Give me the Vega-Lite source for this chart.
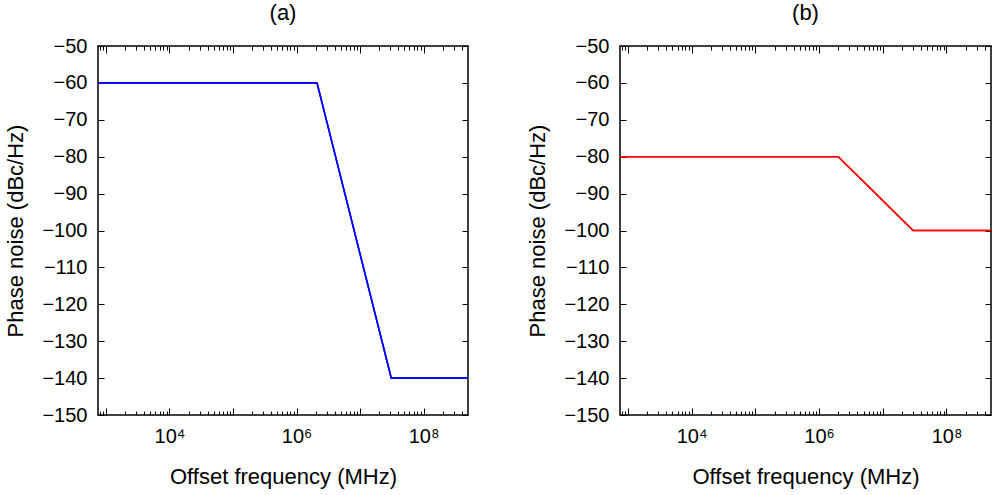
{
  "$schema": "https://vega.github.io/schema/vega-lite/v6.json",
  "padding": {"left": 4, "top": 1, "right": 3, "bottom": 3},
  "spacing": 54,
  "datasets": {
    "a": [
      {"freq": 750, "pn": -60},
      {"freq": 2100000, "pn": -60},
      {"freq": 31000000, "pn": -140},
      {"freq": 500000000, "pn": -140}
    ],
    "b": [
      {"freq": 750, "pn": -80},
      {"freq": 2000000, "pn": -80},
      {"freq": 30000000, "pn": -100},
      {"freq": 500000000, "pn": -100}
    ]
  },
  "config": {
    "view": {"stroke": "black", "strokeWidth": 1.5},
    "font": "Liberation Sans",
    "title": {"fontSize": 22, "fontWeight": "normal", "font": "Liberation Sans", "color": "black", "offset": 11},
    "axis": {
      "grid": false, "domain": false, "tickColor": "black", "tickWidth": 1,
      "labelFont": "Liberation Sans", "titleFont": "Liberation Sans",
      "labelFontSize": 20, "titleFontSize": 22, "titleFontWeight": "normal",
      "labelColor": "black", "titleColor": "black"
    }
  },
  "hconcat": [
    {
      "width": 370, "height": 369,
      "title": "(a)",
      "data": {"name": "a"},
      "layer": [
        {
          "mark": {"type": "line", "color": "#0000ff", "strokeWidth": 1.6},
          "encoding": {
            "x": {"field": "freq", "type": "quantitative",
              "scale": {"type": "log", "domain": [750, 500000000], "nice": false},
              "axis": {"orient": "bottom", "title": "Offset frequency (MHz)",
                "values": [800,900,1000,2000,3000,4000,5000,6000,7000,8000,9000,10000,20000,30000,40000,50000,60000,70000,80000,90000,100000,200000,300000,400000,500000,600000,700000,800000,900000,1000000,2000000,3000000,4000000,5000000,6000000,7000000,8000000,9000000,10000000,20000000,30000000,40000000,50000000,60000000,70000000,80000000,90000000,100000000,200000000,300000000,400000000],
                "tickSize": {"condition": {"test": "abs(log(datum.value)/LN10 - round(log(datum.value)/LN10)) < 0.001", "value": -7}, "value": -4},
                "labelExpr": "datum.value == 10000 ? '10⁴' : datum.value == 1000000 ? '10⁶' : datum.value == 100000000 ? '10⁸' : ''",
                "labelOverlap": false, "labelFlush": false, "labelPadding": 18, "titlePadding": 17}},
            "y": {"field": "pn", "type": "quantitative",
              "scale": {"domain": [-150, -50], "nice": false},
              "axis": {"orient": "left", "title": "Phase noise (dBc/Hz)",
                "values": [-150,-140,-130,-120,-110,-100,-90,-80,-70,-60,-50],
                "tickSize": -6, "labelPadding": 17, "titlePadding": 14}}
          }
        },
        {
          "mark": {"type": "line", "color": "#0000ff", "strokeWidth": 1.6},
          "encoding": {
            "x": {"field": "freq", "type": "quantitative",
              "scale": {"type": "log", "domain": [750, 500000000], "nice": false},
              "axis": {"orient": "top", "title": null, "labels": false,
                "values": [800,900,1000,2000,3000,4000,5000,6000,7000,8000,9000,10000,20000,30000,40000,50000,60000,70000,80000,90000,100000,200000,300000,400000,500000,600000,700000,800000,900000,1000000,2000000,3000000,4000000,5000000,6000000,7000000,8000000,9000000,10000000,20000000,30000000,40000000,50000000,60000000,70000000,80000000,90000000,100000000,200000000,300000000,400000000],
                "tickSize": {"condition": {"test": "abs(log(datum.value)/LN10 - round(log(datum.value)/LN10)) < 0.001", "value": -7}, "value": -4}}},
            "y": {"field": "pn", "type": "quantitative",
              "scale": {"domain": [-150, -50], "nice": false},
              "axis": {"orient": "right", "title": null, "labels": false,
                "values": [-150,-140,-130,-120,-110,-100,-90,-80,-70,-60,-50],
                "tickSize": -6}}
          }
        }
      ],
      "resolve": {"axis": {"x": "independent", "y": "independent"}}
    },
    {
      "width": 371, "height": 369,
      "title": "(b)",
      "data": {"name": "b"},
      "layer": [
        {
          "mark": {"type": "line", "color": "#ff0000", "strokeWidth": 1.6},
          "encoding": {
            "x": {"field": "freq", "type": "quantitative",
              "scale": {"type": "log", "domain": [750, 500000000], "nice": false},
              "axis": {"orient": "bottom", "title": "Offset frequency (MHz)",
                "values": [800,900,1000,2000,3000,4000,5000,6000,7000,8000,9000,10000,20000,30000,40000,50000,60000,70000,80000,90000,100000,200000,300000,400000,500000,600000,700000,800000,900000,1000000,2000000,3000000,4000000,5000000,6000000,7000000,8000000,9000000,10000000,20000000,30000000,40000000,50000000,60000000,70000000,80000000,90000000,100000000,200000000,300000000,400000000],
                "tickSize": {"condition": {"test": "abs(log(datum.value)/LN10 - round(log(datum.value)/LN10)) < 0.001", "value": -7}, "value": -4},
                "labelExpr": "datum.value == 10000 ? '10⁴' : datum.value == 1000000 ? '10⁶' : datum.value == 100000000 ? '10⁸' : ''",
                "labelOverlap": false, "labelFlush": false, "labelPadding": 18, "titlePadding": 17}},
            "y": {"field": "pn", "type": "quantitative",
              "scale": {"domain": [-150, -50], "nice": false},
              "axis": {"orient": "left", "title": "Phase noise (dBc/Hz)",
                "values": [-150,-140,-130,-120,-110,-100,-90,-80,-70,-60,-50],
                "tickSize": -6, "labelPadding": 17, "titlePadding": 14}}
          }
        },
        {
          "mark": {"type": "line", "color": "#ff0000", "strokeWidth": 1.6},
          "encoding": {
            "x": {"field": "freq", "type": "quantitative",
              "scale": {"type": "log", "domain": [750, 500000000], "nice": false},
              "axis": {"orient": "top", "title": null, "labels": false,
                "values": [800,900,1000,2000,3000,4000,5000,6000,7000,8000,9000,10000,20000,30000,40000,50000,60000,70000,80000,90000,100000,200000,300000,400000,500000,600000,700000,800000,900000,1000000,2000000,3000000,4000000,5000000,6000000,7000000,8000000,9000000,10000000,20000000,30000000,40000000,50000000,60000000,70000000,80000000,90000000,100000000,200000000,300000000,400000000],
                "tickSize": {"condition": {"test": "abs(log(datum.value)/LN10 - round(log(datum.value)/LN10)) < 0.001", "value": -7}, "value": -4}}},
            "y": {"field": "pn", "type": "quantitative",
              "scale": {"domain": [-150, -50], "nice": false},
              "axis": {"orient": "right", "title": null, "labels": false,
                "values": [-150,-140,-130,-120,-110,-100,-90,-80,-70,-60,-50],
                "tickSize": -6}}
          }
        }
      ],
      "resolve": {"axis": {"x": "independent", "y": "independent"}}
    }
  ]
}
